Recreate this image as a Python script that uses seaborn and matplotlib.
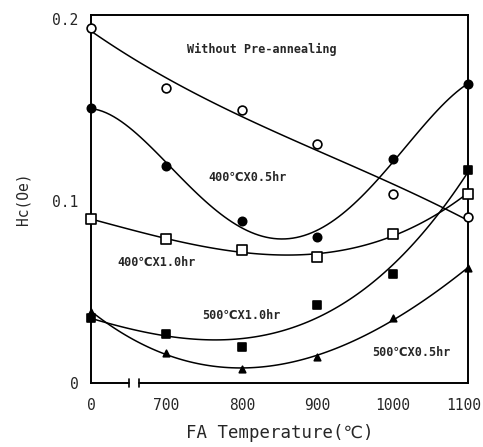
import matplotlib
matplotlib.use("Agg")
import matplotlib.pyplot as plt
import matplotlib.transforms as mtransforms
import seaborn as sns
import pandas as pd

# ---- data (x category "0" is drawn at position 600, left of the axis break) ----
x_labels = ["0", "700", "800", "900", "1000", "1100"]
x_pos = [600, 700, 800, 900, 1000, 1100]

without_pre = [0.195, 0.162, 0.150, 0.131, 0.104, 0.091]
pre400_05 = [0.151, 0.119, 0.089, 0.080, 0.123, 0.164]
pre400_10 = [0.090, 0.079, 0.073, 0.069, 0.082, 0.104]
pre500_10 = [0.0355, 0.027, 0.0196, 0.043, 0.060, 0.117]
pre500_05 = [0.039, 0.0167, 0.0075, 0.0145, 0.0355, 0.063]

series = [
    ("Without Pre-annealing", without_pre, "o", "white", 40, 3),
    ("400℃X0.5hr", pre400_05, "o", "black", 36, 4),
    ("400℃X1.0hr", pre400_10, "s", "white", 42, 3),
    ("500℃X1.0hr", pre500_10, "s", "black", 36, 3),
    ("500℃X0.5hr", pre500_05, "^", "black", 22, 3),
]

sns.set_style("white")
mono = ["DejaVu Sans Mono", "DejaVu Sans"]
plt.rcParams["font.family"] = mono

fig = plt.figure(figsize=(4.83, 4.47), dpi=100)
ax = fig.add_axes([0.1884, 0.1432, 0.969 - 0.1884, 0.9664 - 0.1432])

for name, vals, mk, fc, s, order in series:
    df = pd.DataFrame({"x": x_pos, "y": vals})
    sns.regplot(data=df, x="x", y="y", order=order, ci=None, scatter=False,
                truncate=True, ax=ax, line_kws=dict(color="black", lw=1.1))
    sns.scatterplot(data=df, x="x", y="y", marker=mk, s=s, facecolor=fc,
                    edgecolor="black", linewidth=1.2, ax=ax, zorder=5,
                    clip_on=False)

ax.set_xlim(600, 1100)
ax.set_ylim(0, 0.202)
ax.set_xticks(x_pos)
ax.set_xticklabels(x_labels)
ax.set_yticks([0, 0.1, 0.2])
ax.set_yticklabels(["0", "0.1", "0.2"])
ax.tick_params(axis="x", direction="in", length=5, width=1.2, labelsize=10.5, pad=11)
ax.tick_params(axis="y", direction="in", length=10, width=1.2, labelsize=10.5, pad=9)
ax.set_xlabel("FA Temperature(℃)", fontsize=12.5, labelpad=8)
ax.set_ylabel("Hc(Oe)", fontsize=10.5, labelpad=16)

# keep the last x tick label inside the figure
last = ax.get_xticklabels()[-1]
last.set_transform(last.get_transform() + mtransforms.ScaledTranslation(-3 / 72, 0, fig.dpi_scale_trans))

for sp in ["left", "top", "right"]:
    ax.spines[sp].set_color("black")
    ax.spines[sp].set_linewidth(1.4)
ax.spines["bottom"].set_visible(False)

# bottom spine with axis break
trans = ax.get_xaxis_transform()
ax.plot([600, 650], [0, 0], color="black", lw=1.4, transform=trans, clip_on=False)
ax.plot([663, 1100], [0, 0], color="black", lw=1.4, transform=trans, clip_on=False)
ax.plot([650, 650], [-0.012, 0.012], color="black", lw=1.2, transform=trans, clip_on=False)
ax.plot([663, 663], [-0.012, 0.012], color="black", lw=1.2, transform=trans, clip_on=False)

txt = dict(fontsize=8.5, fontweight="bold", ha="center", va="center", family=mono)
ax.text(826, 0.183, "Without Pre-annealing", **txt)
ax.text(808, 0.113, "400℃X0.5hr", **txt)
ax.text(687, 0.066, "400℃X1.0hr", **txt)
ax.text(799, 0.037, "500℃X1.0hr", **txt)
ax.text(1025, 0.0167, "500℃X0.5hr", **txt)

fig.savefig("out.png", dpi=100)
